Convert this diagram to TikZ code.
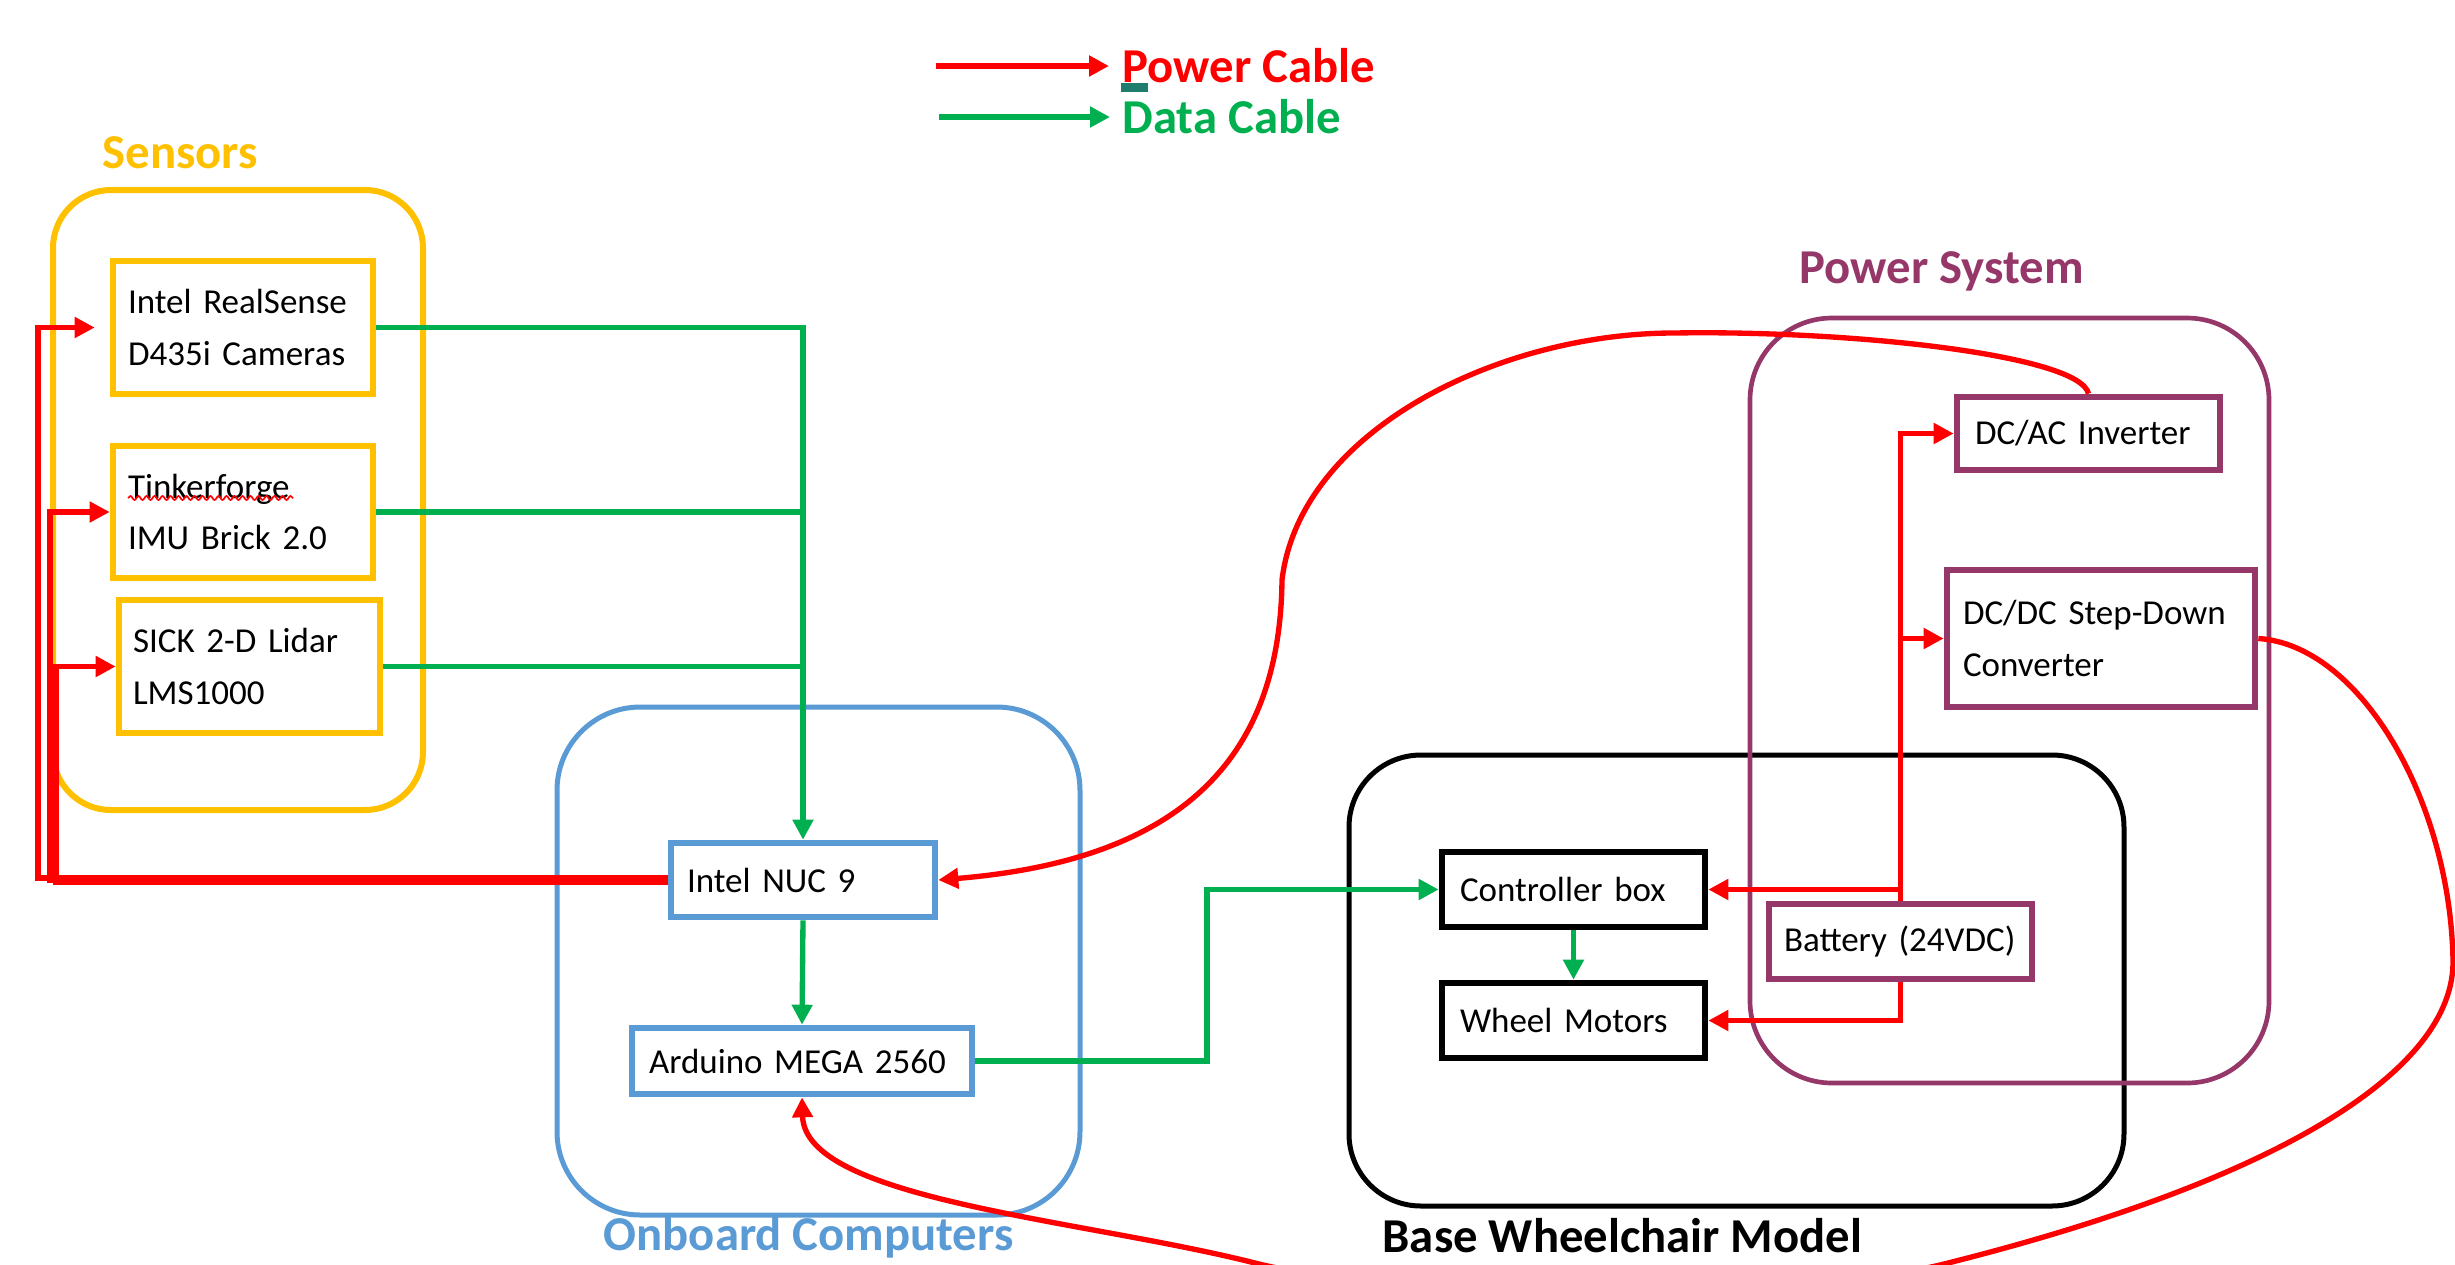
\documentclass[tikz,border=0pt]{standalone}
\usepackage{fontspec}
\setmainfont{Carlito}
\usetikzlibrary{arrows.meta,decorations.pathmorphing}
\definecolor{sorange}{RGB}{255,192,0}
\definecolor{oblue}{RGB}{91,155,213}
\definecolor{pplum}{RGB}{150,55,105}
\definecolor{pred}{RGB}{255,0,0}
\definecolor{dgreen}{RGB}{0,176,80}
\definecolor{tealmk}{RGB}{31,125,110}
\newcommand\bodyf{\fontsize{10.5}{15.5}\selectfont}
\newcommand\titlef{\fontsize{14.6}{17}\selectfont\bfseries}
\tikzset{
 grp/.style={draw=#1, line width=1.6pt, inner sep=0pt},
 blk/.style={draw=#1, line width=2pt, fill=white, align=left, font=\bodyf, inner ysep=0pt, text=black},
 pw/.style={draw=pred, line width=1.6pt, -{Triangle[length=6pt,width=6pt]}},
 dt/.style={draw=dgreen, line width=1.6pt, -{Triangle[length=6pt,width=6pt]}},
 dtl/.style={draw=dgreen, line width=1.6pt},
 ttl/.style={font=\titlef, inner sep=0pt, anchor=base west},
}
\begin{document}
\begin{tikzpicture}[x=0.3pt,y=-0.3pt]
\useasboundingbox (0,0) rectangle (2455,1264);
\clip (0,0) rectangle (2455,1264);
\fill[white] (0,0) rectangle (2455,1264);

% groups
\node[grp=sorange, line width=1.8pt, rounded corners=17.4pt, minimum width=111pt, minimum height=186pt] (grpS) at (238,500) {};
\node[grp=oblue, line width=1.5pt, rounded corners=25pt, minimum width=156.9pt, minimum height=152.4pt] (grpO) at (818.5,961) {};
\node[grp=black, line width=1.5pt, rounded corners=21.6pt, minimum width=232.5pt, minimum height=135.3pt] (grpB) at (1736.5,980.5) {};
\node[grp=pplum, line width=1.4pt, rounded corners=24.6pt, minimum width=155.7pt, minimum height=229.5pt] (grpP) at (2009.5,700.5) {};

% titles
\node[ttl, text=sorange] (tS) at (102,168) {Sensors};
\node[ttl, text=pred] (tPC) at (1122,82) {Power Cable};
\node[ttl, text=dgreen] (tDC) at (1122,133) {Data Cable};
\node[ttl, text=pplum] (tPS) at (1799,283) {Power System};
\node[ttl, text=oblue] (tOC) at (603,1250) {Onboard Computers};
\node[ttl, text=black] (tBW) at (1382,1252) {Base Wheelchair Model};
\fill[tealmk] (1121,83) rectangle (1148,92);

% blocks
\node[blk=sorange, minimum width=78pt, minimum height=39.9pt, text width=69pt, inner xsep=4.5pt] (cam) at (243,327.5) {Intel RealSense\\D435i Cameras};
\node[blk=sorange, minimum width=78pt, minimum height=39.6pt, text width=69pt, inner xsep=4.5pt] (imu) at (243,512) {Tinkerforge\\IMU Brick 2.0};
\node[blk=sorange, minimum width=78.3pt, minimum height=39.9pt, text width=69.9pt, inner xsep=4.2pt] (lidar) at (249.5,666.5) {SICK 2-D Lidar\\LMS1000};
\node[blk=oblue, minimum width=79.2pt, minimum height=22.2pt, text width=69.6pt, inner xsep=4.8pt] (nuc) at (803,880) {\mbox{Intel NUC 9}};
\node[blk=oblue, minimum width=102pt, minimum height=19.8pt, text width=91.8pt, inner xsep=5.1pt] (ard) at (802,1061) {\mbox{Arduino MEGA 2560}};
\node[blk=black, minimum width=78.9pt, minimum height=22.5pt, text width=68.1pt, inner xsep=5.4pt] (ctrl) at (1573.5,889.5) {\mbox{Controller box}};
\node[blk=black, minimum width=78.9pt, minimum height=22.5pt, text width=68.1pt, inner xsep=5.4pt] (wheel) at (1573.5,1020.5) {\mbox{Wheel Motors}};
\node[blk=pplum, minimum width=78.9pt, minimum height=22.5pt, text width=69.9pt, inner xsep=4.5pt] (batt) at (1900.5,941.5) {\mbox{Battery (24VDC)}};
\node[blk=pplum, minimum width=78.9pt, minimum height=21.9pt, text width=68.1pt, inner xsep=5.4pt] (dcac) at (2088.5,433.5) {\mbox{DC/AC Inverter}};
\node[blk=pplum, minimum width=92.4pt, minimum height=41.1pt, text width=82.8pt, inner xsep=4.8pt] (dcdc) at (2101,638.5) {DC/DC Step-Down\\Converter};

\draw[pred, line width=0.5pt, decorate, decoration={snake, amplitude=0.6pt, segment length=2.4pt}] (128,498) -- (293,498);

% legend
\coordinate (lr) at (936,66);
\coordinate (lg) at (939,117);
\draw[pw, shorten >=3.9pt] (lr) -- (lr -| tPC.west);
\draw[dt, shorten >=3.6pt] (lg) -- (lg -| tDC.west);

% data cables
\draw[dt] (cam.east) -- (cam.east -| nuc.north) -- (nuc.north);
\draw[dtl] (imu.east) -- (imu.east -| nuc.north);
\draw[dtl] (lidar.east) -- (lidar.east -| nuc.north);
\draw[dt] (nuc.south) -- (ard.north);
\coordinate (gx) at (1207,0);
\draw[dt] (ard.east) -- (ard.east -| gx) |- (ctrl.west);
\draw[dt] (ctrl.south) -- (wheel.north);

% power from battery
\draw[pw] (batt.north) |- (dcac.west);
\draw[pw] (batt.north |- dcdc.west) -- (dcdc.west);
\draw[pw] (batt.north |- ctrl.east) -- (ctrl.east);
\draw[pw] (batt.south) |- (wheel.east);

% power from NUC to sensors
\coordinate (xa) at (38,0);
\coordinate (xb) at (50,0);
\coordinate (xc) at (56,0);
\coordinate (n1) at ([yshift=0.6pt]nuc.west);
\coordinate (n2) at (nuc.west);
\coordinate (n3) at ([yshift=-0.6pt]nuc.west);
\draw[pw, shorten >=4.5pt] (n1) -- (n1 -| xa) |- (cam.west);
\draw[pw] (n2) -- (n2 -| xb) |- (imu.west);
\draw[pw] (n3) -- (n3 -| xc) |- (lidar.west);

% curved power cables
\draw[pw] (dcac.north) .. controls (2080,355) and (1850,330) .. (1674,333)
  .. controls (1500,333) and (1300,430) .. (1282,580)
  .. controls (1280,760) and (1180,860) .. (nuc.east);
\draw[pw] (dcdc.east) .. controls (2360,645) and (2450,800) .. (2453,960)
  .. controls (2455,1070) and (2280,1180) .. (1944,1264)
  .. controls (1800,1300) and (1400,1300) .. (1255,1263)
  .. controls (1081,1219) and (805,1200) .. (ard.south);
\end{tikzpicture}
\end{document}
